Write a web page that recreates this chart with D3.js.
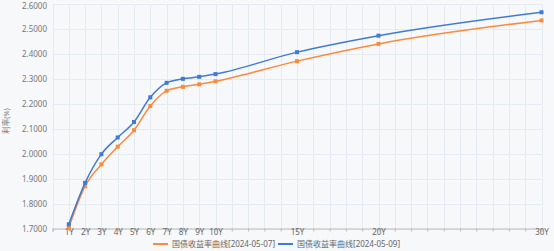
<!DOCTYPE html>
<html>
<head>
<meta charset="utf-8">
<script src="https://cdn.jsdelivr.net/npm/d3@7"></script>
<style>
  body { margin: 0; background: #f7f8fa; }
  text { font-family: "Noto Sans", "Noto Sans CJK SC", sans-serif; }
</style>
</head>
<body>
<script>
// tenor (years) and yields for each curve
var tenors = [1, 2, 3, 4, 5, 6, 7, 8, 9, 10, 15, 20, 30];
var yield0507 = [1.704, 1.870, 1.957, 2.028, 2.094, 2.191, 2.252, 2.268, 2.278, 2.290, 2.371, 2.440, 2.534];
var yield0509 = [1.717, 1.883, 1.998, 2.065, 2.127, 2.226, 2.284, 2.300, 2.308, 2.319, 2.407, 2.473, 2.567];
var tickLabels = [1, 2, 3, 4, 5, 6, 7, 8, 9, 10, 15, 20, 30];
var yTicks = [1.7, 1.8, 1.9, 2.0, 2.1, 2.2, 2.3, 2.4, 2.5, 2.6];
var seriesNames = ["国债收益率曲线[2024-05-07]", "国债收益率曲线[2024-05-09]"];
var colors = ["#fa8a3c", "#3f7bd4"];

var width = 554,
    height = 251;

var svg = d3.select("body")
            .append("svg")
            .attr("width", width)
            .attr("height", height);

var x = d3.scaleLinear().domain([0, 30]).range([52.5, 541.5]);
var y = d3.scaleLinear().domain([1.7, 2.6]).range([228.5, 4]);

// grid
svg.append("g")
    .selectAll("line.v")
    .data(d3.range(0, 31))
    .enter().append("line")
    .attr("x1", function(d) { return Math.round(x(d)) + 0.5; })
    .attr("x2", function(d) { return Math.round(x(d)) + 0.5; })
    .attr("y1", y(2.6))
    .attr("y2", y(1.7))
    .attr("stroke", "#e6eaf1");

svg.append("g")
    .selectAll("line.h")
    .data(yTicks)
    .enter().append("line")
    .attr("x1", x(0))
    .attr("x2", x(30))
    .attr("y1", function(d) { return Math.round(y(d)) + 0.5; })
    .attr("y2", function(d) { return Math.round(y(d)) + 0.5; })
    .attr("stroke", "#e6eaf1");

// y axis labels (top one nudged so it stays inside the frame)
svg.append("g")
    .selectAll("text")
    .data(yTicks)
    .enter().append("text")
    .attr("x", 47)
    .attr("y", function(d) { return Math.max(y(d) + 3, 8.5); })
    .attr("text-anchor", "end")
    .attr("font-size", 8)
    .attr("fill", "#777")
    .text(function(d) { return d.toFixed(4); });

svg.append("text")
    .attr("transform", "translate(9,121) rotate(-90)")
    .attr("text-anchor", "middle")
    .attr("font-size", 7.5)
    .attr("fill", "#777")
    .text("利率(%)");

// x axis
var xAxis = d3.axisBottom(x)
    .tickValues(d3.range(0, 31))
    .tickSize(3)
    .tickFormat(function(d) { return tickLabels.indexOf(d) >= 0 ? d + "Y" : ""; });

var gx = svg.append("g")
    .attr("transform", "translate(0," + y(1.7) + ")")
    .call(xAxis);
gx.select(".domain").attr("stroke", "#bbb");
gx.selectAll(".tick line").attr("stroke", "#bbb");
gx.selectAll(".tick text")
    .attr("y", 0)
    .attr("dy", "0.75em")
    .attr("fill", "#666")
    .attr("font-size", 8)
    .attr("font-family", "Noto Sans, sans-serif");

// lines
var line = d3.line()
    .x(function(d) { return x(d[0]); })
    .y(function(d) { return y(d[1]); })
    .curve(d3.curveMonotoneX);

[yield0507, yield0509].forEach(function(vals, i) {
    var pts = tenors.map(function(t, j) { return [t, vals[j]]; });
    svg.append("path")
        .datum(pts)
        .attr("fill", "none")
        .attr("stroke", colors[i])
        .attr("stroke-width", 1.5)
        .attr("d", line);
    svg.append("g")
        .selectAll("rect")
        .data(pts)
        .enter().append("rect")
        .attr("x", function(d) { return x(d[0]) - 2; })
        .attr("y", function(d) { return y(d[1]) - 2; })
        .attr("width", 4)
        .attr("height", 4)
        .attr("fill", colors[i]);
});

// legend
var legendX = [153, 278];
seriesNames.forEach(function(name, i) {
    var lg = svg.append("g").attr("transform", "translate(" + legendX[i] + ",244)");
    lg.append("line")
        .attr("x1", 0).attr("x2", 15)
        .attr("stroke", colors[i])
        .attr("stroke-width", 2);
    lg.append("text")
        .attr("x", 19)
        .attr("y", 3)
        .attr("font-size", 8)
        .attr("fill", "#666")
        .text(name);
});
</script>
</body>
</html>
